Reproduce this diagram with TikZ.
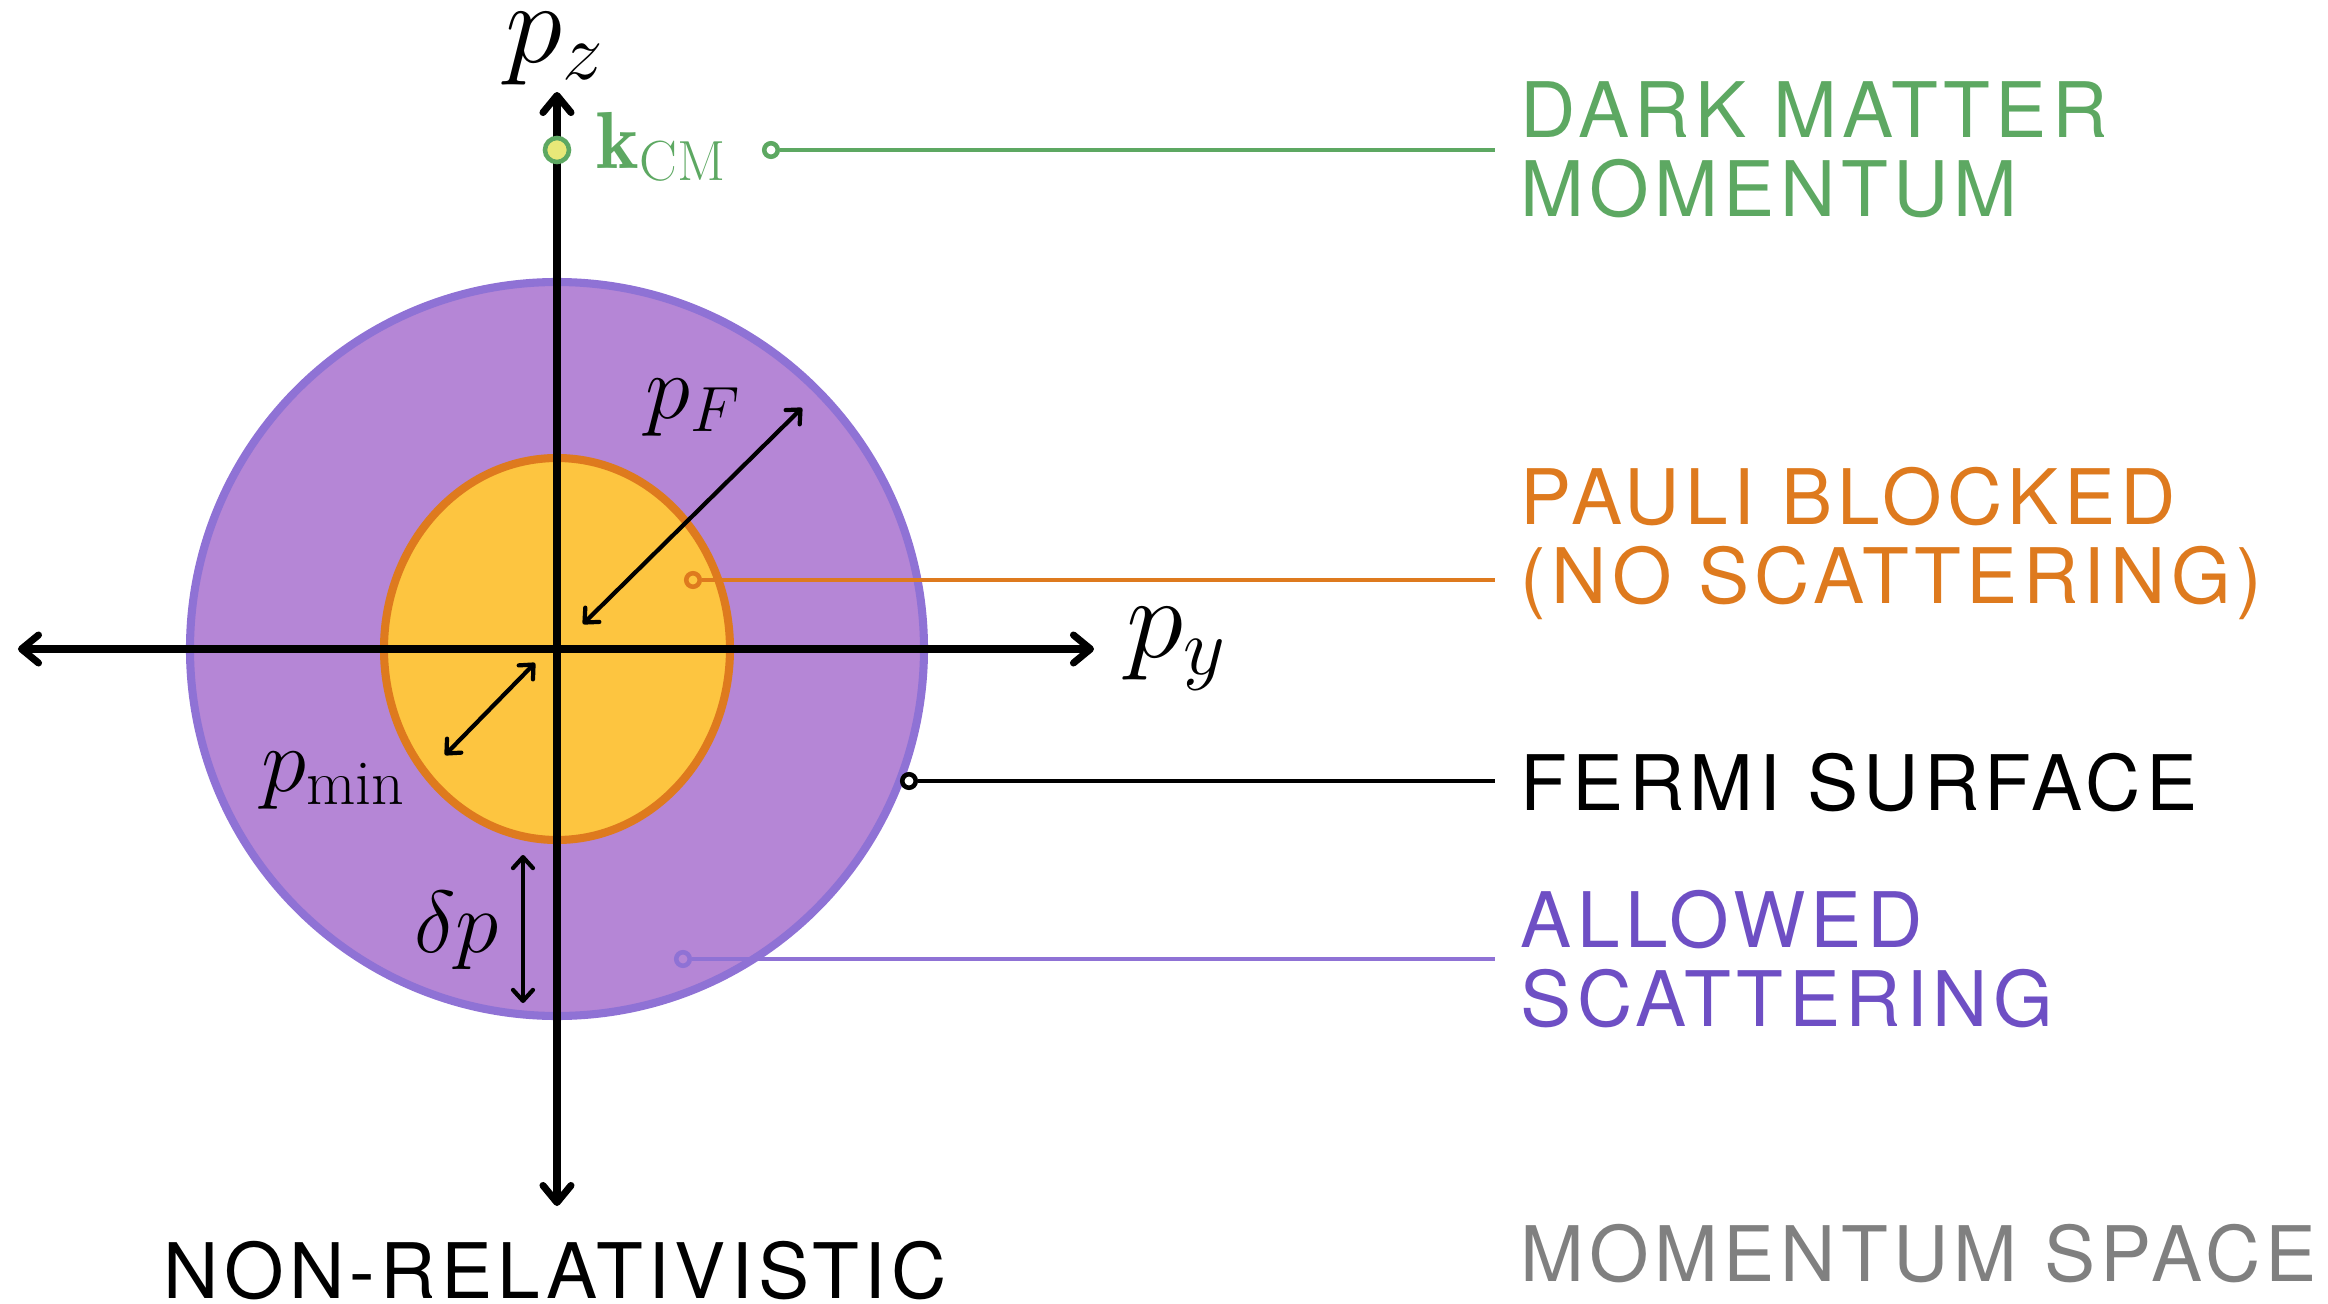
\RequirePackage{fix-cm}
\documentclass[tikz,border=0pt]{standalone}
\usepackage{fontspec}
\usepackage{amsmath}
\usetikzlibrary{arrows.meta}
\newfontfamily\capsfont{TeX Gyre Heros}[LetterSpace=7]
\definecolor{fermifill}{HTML}{B586D6}
\definecolor{fermiedge}{HTML}{8F72D5}
\definecolor{allowtext}{HTML}{6E4FC4}
\definecolor{pauliorange}{HTML}{DE7A1E}
\definecolor{pauliyellow}{HTML}{FDC540}
\definecolor{dmgreen}{HTML}{5DA862}
\definecolor{dmdot}{HTML}{E8E878}
\definecolor{spacegray}{HTML}{808080}

\begin{document}
\begin{tikzpicture}[
  axis/.style   = {line width=2pt, line cap=round,
                   >={Straight Barb[length=1.7mm,width=2.8mm,round]}, <->},
  gauge/.style  = {line width=1.2pt, line cap=round,
                   >={Straight Barb[length=1.1mm,width=2mm,round]}, <->},
  tag/.style    = {font=\capsfont\fontsize{21.8}{22.5}\selectfont,
                   inner sep=0pt, align=left, anchor=base west},
  pin/.style    = {circle, draw=#1, line width=1.3pt, inner sep=0pt,
                   minimum size=1.35mm},
  lead/.style   = {line width=1pt, shorten >=2.5mm},
  bigmath/.style= {font=\fontsize{33}{38}\selectfont, inner sep=0pt,
                   anchor=base west},
  midmath/.style= {font=\fontsize{26}{30}\selectfont, inner sep=0pt,
                   anchor=base west}
]
  \useasboundingbox (-5.57,-6.55) rectangle (17.71,6.49);

  % regions in momentum space
  \draw[line width=2.3pt, draw=fermiedge, fill=fermifill] (0,0) circle (3.67);
  \draw[line width=2.3pt, draw=pauliorange, fill=pauliyellow]
    (0,0) ellipse [x radius=1.73, y radius=1.91];

  % axes
  \draw[axis] (0,-5.57) -- (0,5.57);
  \draw[axis] (-5.39,0) -- (5.37,0);
  \node[bigmath] (pz) at (-0.52,5.87) {$p_z$};
  \node[bigmath] (py) at (5.69,-0.08) {$p_y$};

  % radii
  \draw[gauge] (0.26,0.25) -- (2.45,2.41);
  \draw[gauge] (-0.22,-0.14) -- (-1.12,-1.06);
  \draw[gauge] (-0.34,-2.06) -- (-0.34,-3.54);
  \node[midmath] (pF)   at (0.88,2.31)   {$p_F$};
  \node[midmath] (pmin) at (-2.96,-1.42) {$p_{\min}$};
  \node[midmath, font=\fontsize{25}{30}\selectfont] (dp) at (-1.43,-3.03) {$\delta p$};

  % dark matter momentum
  \node[circle, draw=dmgreen, fill=dmdot, line width=1.3pt, inner sep=0pt,
        minimum size=2.4mm] (kcm) at (0,4.99) {};
  \node[font=\fontsize{23}{27}\selectfont, text=dmgreen, inner sep=0pt,
        anchor=base west] (kcmlabel) at (0.39,4.81) {$\mathbf{k}_{\mathrm{CM}}$};

  % legend
  \node[tag, text=dmgreen]     (dmtext) at (9.63,4.327) {DARK MATTER\\MOMENTUM};
  \node[tag, text=pauliorange] (pbtext) at (9.63,0.457) {PAULI BLOCKED\\(NO SCATTERING)};
  \node[tag]                   (fstext) at (9.63,-1.61) {FERMI SURFACE};
  \node[tag, text=allowtext]   (astext) at (9.63,-3.777) {ALLOWED\\SCATTERING};
  \node[tag, text=spacegray]   (mstext) at (9.63,-6.327) {MOMENTUM SPACE};
  \node[tag, anchor=base]      (nrtext) at (-0.02,-6.493) {NON-RELATIVISTIC};

  \node[pin=dmgreen]                (dmstart) at (2.14,4.99)  {};
  \node[pin=pauliorange]            (pbstart) at (1.36,0.69)  {};
  \node[pin=black, fill=white]      (fsstart) at (3.52,-1.32) {};
  \node[pin=fermiedge]              (asstart) at (1.26,-3.10) {};

  \draw[lead, dmgreen]     (dmstart) -- (dmstart -| dmtext.west);
  \draw[lead, pauliorange] (pbstart) -- (pbstart -| pbtext.west);
  \draw[lead]              (fsstart) -- (fsstart -| fstext.west);
  \draw[lead, fermiedge]   (asstart) -- (asstart -| astext.west);
\end{tikzpicture}
\end{document}
